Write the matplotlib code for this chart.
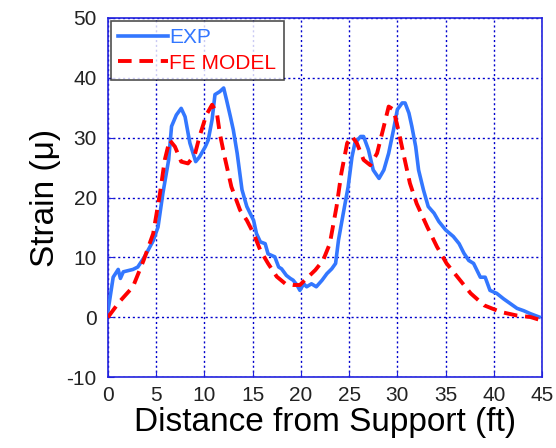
import matplotlib
matplotlib.use('Agg')
import matplotlib.pyplot as plt

# experimental strain readings along the girder
exp_x = [0.0, 0.55, 1.07, 1.3, 1.6, 2.6, 3.1, 3.8, 4.7, 5.2, 5.7, 6.3, 6.6, 7.1, 7.6, 8.0,
         8.5, 9.1, 9.5, 10.1, 10.4, 10.8, 11.1, 11.6, 12.0, 12.3, 12.7, 13.0, 13.4, 13.9,
         14.4, 15.1, 15.4, 15.8, 16.3, 16.6, 17.3, 17.7, 18.0, 18.5, 18.9, 19.2, 19.6,
         19.9, 20.3, 20.6, 21.1, 21.6, 22.2, 22.7, 23.2, 23.6, 23.9, 24.4, 24.9, 25.3,
         25.6, 26.2, 26.5, 27.0, 27.5, 28.1, 28.6, 29.1, 29.6, 30.0, 30.5, 30.8, 31.2,
         31.5, 31.9, 32.2, 32.7, 33.2, 33.8, 34.3, 35.0, 35.8, 36.4, 36.9, 37.4, 37.9,
         38.6, 39.1, 39.6, 40.3, 41.0, 41.7, 42.4, 43.1, 43.8, 44.7]
exp_y = [0.9, 6.7, 8.0, 6.5, 7.6, 8.0, 8.4, 10.1, 12.8, 15.1, 20.7, 26.3, 31.9, 33.8, 34.9,
         33.5, 29.1, 26.0, 26.8, 28.5, 29.6, 33.0, 37.2, 37.7, 38.3, 36.3, 33.5, 31.3,
         27.4, 21.3, 18.5, 16.2, 14.0, 12.6, 12.3, 10.6, 10.1, 8.4, 8.1, 7.0, 6.5, 6.2,
         5.4, 4.5, 5.6, 5.1, 5.6, 5.1, 6.2, 7.3, 8.1, 9.0, 12.9, 17.4, 21.8, 26.8, 29.1,
         30.2, 30.2, 28.0, 24.6, 23.2, 24.6, 27.4, 31.3, 34.7, 35.8, 35.8, 34.1, 31.9,
         28.5, 24.6, 21.3, 18.5, 17.4, 16.0, 14.6, 13.5, 12.3, 10.7, 9.5, 9.0, 6.7, 6.7,
         4.5, 4.0, 3.1, 2.3, 1.5, 1.1, 0.6, 0.05]

# finite element model prediction
fe_x = [0.0, 1.2, 2.6, 3.7, 4.7, 5.4, 5.9, 6.4, 6.95, 7.6, 8.3, 9.0, 9.5, 10.2, 10.8, 11.3,
        11.6, 12.1, 12.8, 13.7, 14.4, 15.1, 15.8, 16.6, 17.5, 18.4, 19.2, 19.9, 20.6,
        21.5, 22.3, 23.0, 23.7, 24.2, 24.8, 25.3, 25.8, 26.5, 27.2, 27.9, 28.6, 29.1,
        29.6, 30.1, 30.7, 31.3, 32.0, 33.1, 34.1, 35.1, 36.2, 37.6, 39.0, 40.7, 42.4,
        43.8, 44.7]
fe_y = [0.0, 2.6, 5.1, 9.5, 14.0, 20.7, 26.3, 29.6, 28.5, 26.0, 25.7, 27.1, 30.2, 33.8,
        35.5, 34.1, 30.7, 26.8, 21.8, 17.9, 16.2, 14.0, 11.2, 9.0, 6.8, 5.6, 5.4, 5.4,
        6.5, 7.9, 9.5, 12.3, 18.5, 24.1, 29.1, 30.2, 29.1, 26.3, 25.4, 27.4, 31.9, 35.2,
        34.7, 31.3, 26.8, 22.4, 19.0, 15.1, 11.8, 9.0, 6.8, 4.0, 2.0, 0.9, 0.3, 0.05, -0.4]

x_ticks = list(range(0, 46, 5))
y_ticks = list(range(-10, 51, 10))

plt.rcParams['font.family'] = ['Liberation Sans', 'DejaVu Sans']
plt.rcParams['axes.unicode_minus'] = False

fig = plt.figure(figsize=(5.56, 4.48), dpi=100)
ax = fig.add_axes([0.194, 0.158, 0.781, 0.802])

ax.plot(exp_x, exp_y, color='#3377ff', lw=2.6, label='EXP', zorder=3)
ax.plot(fe_x, fe_y, color='#ff0000', lw=2.8, ls=(0, (3.5, 2)), label='FE MODEL', zorder=4)

ax.set_xlim(0, 45)
ax.set_ylim(-10, 50)
ax.set_xticks(x_ticks)
ax.set_yticks(y_ticks)
ax.grid(True, color='#0000cc', ls=(0, (1.5, 2)), lw=1.0)
for sp in ax.spines.values():
    sp.set_color('#2222dd')
    sp.set_linewidth(1.2)
ax.tick_params(axis='both', colors='#2222dd', labelcolor='#222222', labelsize=15,
               direction='in', length=4)
ax.tick_params(axis='y', pad=8)
ax.tick_params(axis='x', pad=6)

ax.set_xlabel('Distance from Support (ft)', fontsize=24, labelpad=2)
ax.set_ylabel('Strain (\u03bc)', fontsize=24, labelpad=4)

leg = ax.legend(loc='upper left', fontsize=15, frameon=True, fancybox=False,
                borderaxespad=0.15, handlelength=2.4, handletextpad=0.05,
                borderpad=0.35, labelspacing=0.3)
leg.get_frame().set_edgecolor('#222222')
leg.get_frame().set_linewidth(1.2)
for txt, col in zip(leg.get_texts(), ['#3377ff', '#ff0000']):
    txt.set_color(col)

fig.savefig('out.png', dpi=100)
